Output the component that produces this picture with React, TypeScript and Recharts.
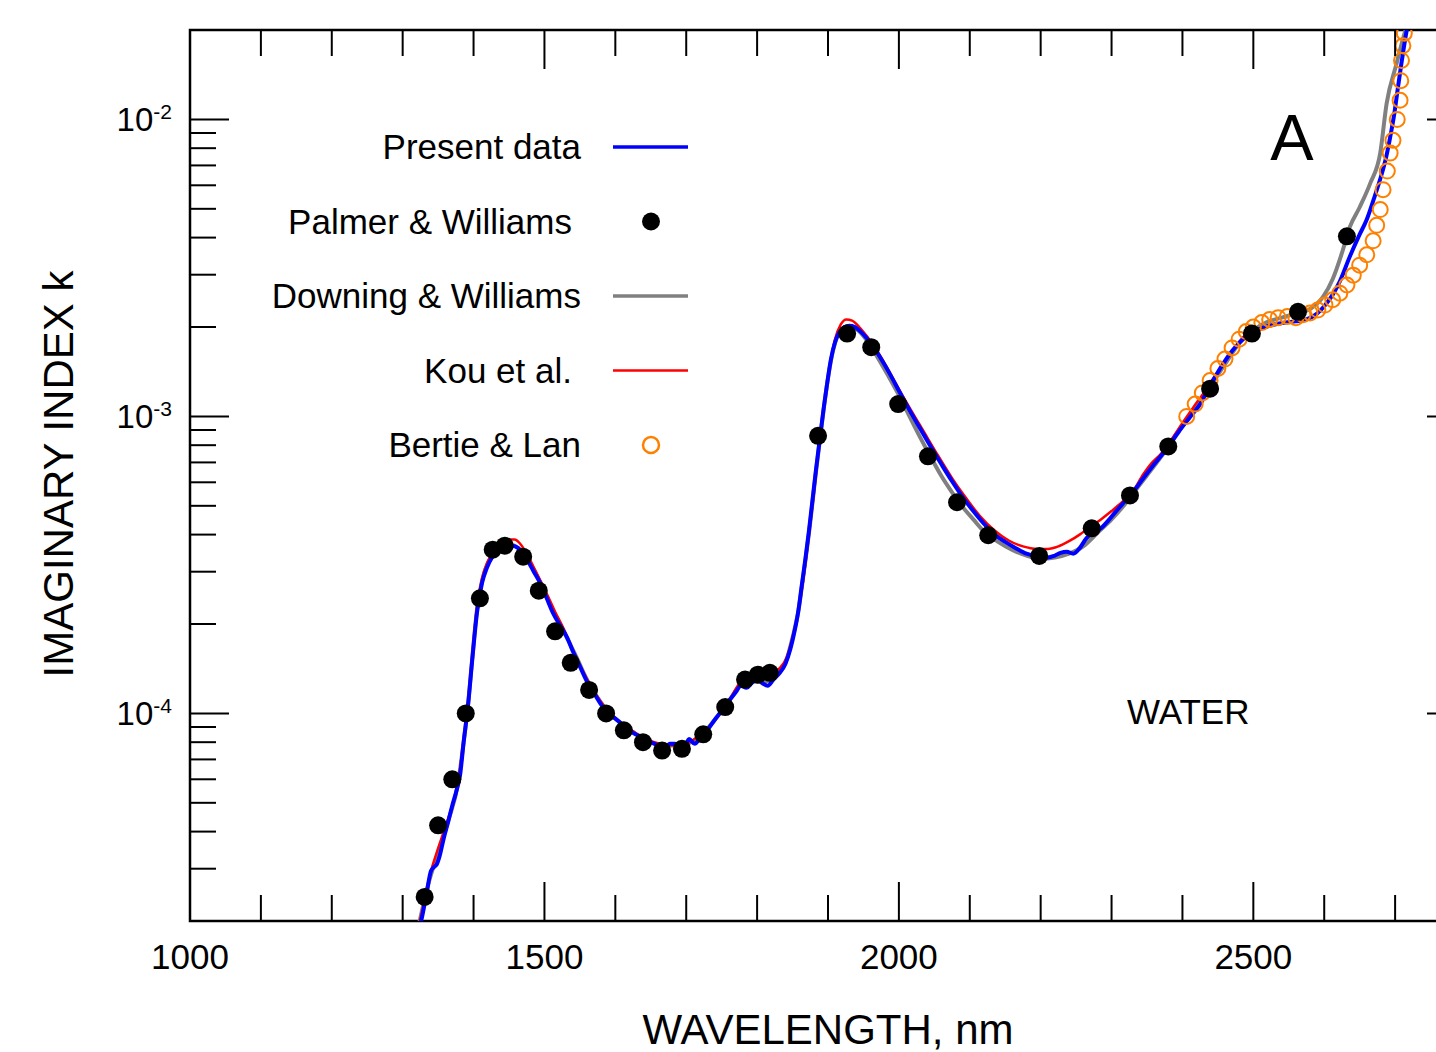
import React from 'react';
import { ComposedChart, Line, Scatter, XAxis, YAxis, ReferenceArea, Legend } from 'recharts';

const FONT = '"Liberation Sans", Arial, Helvetica, sans-serif';

// wavelength (nm) / imaginary index k
const presentWl = [1318, 1326, 1334, 1340, 1345, 1348, 1352, 1358, 1364, 1370, 1376, 1381, 1386, 1392, 1398, 1405, 1412, 1419, 1426, 1433, 1440, 1447, 1455, 1463, 1470, 1477, 1485, 1494, 1503, 1512, 1522, 1532, 1541, 1550, 1560, 1569, 1580, 1590, 1600, 1612, 1625, 1638, 1650, 1660, 1668, 1677, 1684, 1690, 1697, 1704, 1712, 1720, 1730, 1740, 1750, 1760, 1770, 1777, 1785, 1793, 1800, 1808, 1815, 1823, 1832, 1840, 1847, 1853, 1858, 1863, 1868, 1873, 1878, 1883, 1889, 1894, 1899, 1904, 1910, 1916, 1922, 1930, 1938, 1946, 1955, 1965, 1975, 1988, 2000, 2015, 2030, 2045, 2060, 2075, 2090, 2105, 2120, 2135, 2150, 2165, 2180, 2190, 2200, 2210, 2220, 2228, 2237, 2246, 2255, 2265, 2275, 2285, 2295, 2305, 2318, 2330, 2345, 2360, 2378, 2395, 2410, 2425, 2440, 2457, 2470, 2481, 2495, 2514, 2530, 2545, 2560, 2575, 2590, 2600, 2612, 2622, 2636, 2650, 2660, 2670, 2679, 2687, 2693, 2699, 2704, 2709, 2714, 2718];
const presentK = [1.8e-5, 2.0e-5, 2.5e-5, 2.95e-5, 3.05e-5, 3.1e-5, 3.3e-5, 3.8e-5, 4.3e-5, 4.9e-5, 5.5e-5, 6.2e-5, 8.0e-5, 1.05e-4, 1.5e-4, 2.2e-4, 2.75e-4, 3.1e-4, 3.35e-4, 3.5e-4, 3.6e-4, 3.65e-4, 3.67e-4, 3.6e-4, 3.45e-4, 3.25e-4, 3.0e-4, 2.75e-4, 2.45e-4, 2.18e-4, 1.98e-4, 1.8e-4, 1.6e-4, 1.44e-4, 1.28e-4, 1.18e-4, 1.07e-4, 1.0e-4, 9.6e-5, 9.1e-5, 8.6e-5, 8.3e-5, 8.0e-5, 7.8e-5, 7.5e-5, 7.9e-5, 7.9e-5, 7.5e-5, 7.6e-5, 8.2e-5, 7.9e-5, 8.3e-5, 8.8e-5, 9.5e-5, 1.02e-4, 1.1e-4, 1.18e-4, 1.24e-4, 1.22e-4, 1.27e-4, 1.3e-4, 1.26e-4, 1.24e-4, 1.3e-4, 1.37e-4, 1.47e-4, 1.65e-4, 1.9e-4, 2.2e-4, 2.7e-4, 3.3e-4, 4.1e-4, 5.2e-4, 6.6e-4, 8.6e-4, 1.07e-3, 1.3e-3, 1.55e-3, 1.78e-3, 1.92e-3, 1.99e-3, 2.02e-3, 2.0e-3, 1.93e-3, 1.83e-3, 1.7e-3, 1.56e-3, 1.38e-3, 1.22e-3, 1.05e-3, 9.1e-4, 7.9e-4, 6.9e-4, 6.05e-4, 5.35e-4, 4.8e-4, 4.35e-4, 4.0e-4, 3.78e-4, 3.6e-4, 3.45e-4, 3.4e-4, 3.38e-4, 3.35e-4, 3.4e-4, 3.47e-4, 3.5e-4, 3.45e-4, 3.6e-4, 3.9e-4, 4.05e-4, 4.2e-4, 4.45e-4, 4.75e-4, 5.15e-4, 5.55e-4, 6.2e-4, 6.9e-4, 7.8e-4, 8.9e-4, 9.9e-4, 1.1e-3, 1.28e-3, 1.5e-3, 1.66e-3, 1.78e-3, 1.9e-3, 1.99e-3, 2.04e-3, 2.07e-3, 2.09e-3, 2.12e-3, 2.22e-3, 2.35e-3, 2.57e-3, 2.85e-3, 3.45e-3, 4.1e-3, 4.6e-3, 5.4e-3, 6.3e-3, 7.4e-3, 8.7e-3, 1.05e-2, 1.28e-2, 1.55e-2, 1.85e-2, 2.1e-2];

const kouWl = [1320, 1330, 1340, 1348, 1358, 1369, 1378, 1385, 1392, 1398, 1405, 1412, 1420, 1430, 1440, 1450, 1458, 1466, 1475, 1485, 1495, 1505, 1515, 1527, 1540, 1552, 1565, 1580, 1595, 1610, 1625, 1640, 1655, 1670, 1685, 1700, 1715, 1730, 1745, 1760, 1775, 1790, 1805, 1820, 1832, 1842, 1850, 1858, 1865, 1872, 1880, 1888, 1895, 1902, 1910, 1918, 1926, 1934, 1944, 1955, 1968, 1982, 1998, 2015, 2035, 2055, 2075, 2095, 2115, 2135, 2155, 2175, 2195, 2210, 2225, 2240, 2255, 2270, 2285, 2300, 2315, 2330, 2345, 2355, 2370, 2385, 2400, 2415, 2430, 2445, 2460, 2475, 2490, 2500];
const kouK = [1.8e-5, 2.3e-5, 2.95e-5, 3.4e-5, 4.0e-5, 4.8e-5, 5.8e-5, 7.8e-5, 1.08e-4, 1.55e-4, 2.3e-4, 2.85e-4, 3.25e-4, 3.55e-4, 3.75e-4, 3.85e-4, 3.85e-4, 3.72e-4, 3.45e-4, 3.1e-4, 2.78e-4, 2.48e-4, 2.2e-4, 1.93e-4, 1.63e-4, 1.42e-4, 1.24e-4, 1.09e-4, 9.9e-5, 9.2e-5, 8.7e-5, 8.25e-5, 8.0e-5, 7.85e-5, 7.8e-5, 7.9e-5, 8.3e-5, 8.9e-5, 9.8e-5, 1.1e-4, 1.26e-4, 1.32e-4, 1.35e-4, 1.37e-4, 1.42e-4, 1.55e-4, 1.8e-4, 2.2e-4, 2.8e-4, 3.8e-4, 5.5e-4, 8.3e-4, 1.12e-3, 1.45e-3, 1.82e-3, 2.04e-3, 2.12e-3, 2.1e-3, 2.0e-3, 1.86e-3, 1.68e-3, 1.48e-3, 1.26e-3, 1.07e-3, 8.9e-4, 7.4e-4, 6.2e-4, 5.3e-4, 4.6e-4, 4.13e-4, 3.82e-4, 3.65e-4, 3.58e-4, 3.58e-4, 3.65e-4, 3.8e-4, 4.0e-4, 4.25e-4, 4.5e-4, 4.8e-4, 5.15e-4, 5.6e-4, 6.4e-4, 6.9e-4, 7.5e-4, 8.4e-4, 9.5e-4, 1.07e-3, 1.2e-3, 1.36e-3, 1.53e-3, 1.72e-3, 1.9e-3, 2.02e-3];

const downingWl = [1320, 1335, 1350, 1365, 1378, 1386, 1392, 1398, 1405, 1412, 1420, 1430, 1440, 1452, 1462, 1472, 1485, 1500, 1515, 1530, 1545, 1560, 1575, 1590, 1605, 1620, 1640, 1660, 1680, 1700, 1720, 1740, 1760, 1778, 1795, 1812, 1828, 1840, 1850, 1858, 1866, 1874, 1882, 1890, 1898, 1906, 1914, 1922, 1932, 1942, 1955, 1970, 1985, 2000, 2015, 2030, 2045, 2060, 2075, 2090, 2105, 2120, 2140, 2160, 2180, 2200, 2220, 2240, 2260, 2280, 2300, 2320, 2340, 2360, 2380, 2400, 2420, 2440, 2460, 2480, 2500, 2520, 2540, 2560, 2580, 2598, 2612, 2625, 2636, 2650, 2665, 2679, 2688, 2702, 2712, 2720];
const downingK = [1.8e-5, 2.6e-5, 3.4e-5, 4.4e-5, 5.8e-5, 8.0e-5, 1.06e-4, 1.52e-4, 2.25e-4, 2.8e-4, 3.2e-4, 3.5e-4, 3.65e-4, 3.7e-4, 3.62e-4, 3.4e-4, 3.05e-4, 2.55e-4, 2.15e-4, 1.83e-4, 1.55e-4, 1.3e-4, 1.13e-4, 1.01e-4, 9.4e-5, 8.8e-5, 8.25e-5, 7.85e-5, 7.8e-5, 7.9e-5, 8.4e-5, 9.5e-5, 1.1e-4, 1.25e-4, 1.28e-4, 1.28e-4, 1.35e-4, 1.48e-4, 1.8e-4, 2.2e-4, 3.0e-4, 4.2e-4, 6.2e-4, 8.9e-4, 1.25e-3, 1.62e-3, 1.88e-3, 1.98e-3, 2.0e-3, 1.95e-3, 1.8e-3, 1.58e-3, 1.37e-3, 1.18e-3, 1.0e-3, 8.5e-4, 7.3e-4, 6.3e-4, 5.55e-4, 4.95e-4, 4.5e-4, 4.1e-4, 3.78e-4, 3.55e-4, 3.4e-4, 3.32e-4, 3.35e-4, 3.45e-4, 3.65e-4, 4.05e-4, 4.5e-4, 5.1e-4, 5.9e-4, 6.8e-4, 7.9e-4, 9.3e-4, 1.08e-3, 1.27e-3, 1.5e-3, 1.76e-3, 1.95e-3, 2.08e-3, 2.15e-3, 2.22e-3, 2.3e-3, 2.52e-3, 2.9e-3, 3.55e-3, 4.34e-3, 5.06e-3, 6.1e-3, 7.7e-3, 1.13e-2, 1.54e-2, 1.9e-2, 2.2e-2];

const palmerWl = [1331, 1350, 1370, 1389, 1409, 1427, 1444, 1470, 1492, 1515, 1537, 1563, 1587, 1612, 1639, 1666, 1694, 1724, 1755, 1783, 1801, 1818, 1886, 1927, 1961, 1999, 2041, 2082, 2126, 2198, 2272, 2326, 2380, 2439, 2498, 2563, 2632];
const palmerK = [2.41e-5, 4.2e-5, 6.0e-5, 1.0e-4, 2.44e-4, 3.56e-4, 3.67e-4, 3.37e-4, 2.59e-4, 1.89e-4, 1.48e-4, 1.2e-4, 1.0e-4, 8.77e-5, 8.0e-5, 7.5e-5, 7.6e-5, 8.5e-5, 1.05e-4, 1.3e-4, 1.35e-4, 1.37e-4, 8.6e-4, 1.9e-3, 1.71e-3, 1.1e-3, 7.34e-4, 5.14e-4, 3.98e-4, 3.39e-4, 4.2e-4, 5.42e-4, 7.92e-4, 1.24e-3, 1.9e-3, 2.25e-3, 4.04e-3];

const bertieWl = [2406, 2418, 2428, 2439, 2450, 2460, 2470, 2480, 2490, 2500, 2512, 2523, 2535, 2548, 2560, 2570, 2580, 2591, 2601, 2612, 2622, 2632, 2641, 2650, 2660, 2669, 2674, 2679, 2683, 2689, 2693, 2697, 2703, 2707, 2708, 2709, 2711, 2713];
const bertieK = [1.0e-3, 1.1e-3, 1.2e-3, 1.32e-3, 1.45e-3, 1.56e-3, 1.7e-3, 1.82e-3, 1.93e-3, 2.0e-3, 2.07e-3, 2.12e-3, 2.15e-3, 2.17e-3, 2.15e-3, 2.2e-3, 2.23e-3, 2.28e-3, 2.37e-3, 2.47e-3, 2.6e-3, 2.77e-3, 2.99e-3, 3.23e-3, 3.5e-3, 3.9e-3, 4.4e-3, 4.97e-3, 5.8e-3, 6.7e-3, 7.7e-3, 8.5e-3, 1.0e-2, 1.16e-2, 1.35e-2, 1.58e-2, 1.77e-2, 1.95e-2];

const X_TICKS = [1000, 1100, 1200, 1300, 1400, 1500, 1600, 1700, 1800, 1900, 2000, 2100, 2200, 2300, 2400, 2500, 2600, 2700, 2800];
const X_LABELS = [1000, 1500, 2000, 2500];
const Y_TICKS = [2e-5, 3e-5, 4e-5, 5e-5, 6e-5, 7e-5, 8e-5, 9e-5, 1e-4, 2e-4, 3e-4, 4e-4, 5e-4, 6e-4, 7e-4, 8e-4, 9e-4, 1e-3, 2e-3, 3e-3, 4e-3, 5e-3, 6e-3, 7e-3, 8e-3, 9e-3, 1e-2, 2e-2];
const Y_LABELS = [1e-4, 1e-3, 1e-2];

const LEGEND_ITEMS = [
  { name: 'Present data', kind: 'line', color: '#0000ff', width: 3.5, textEnd: 581 },
  { name: 'Palmer & Williams', kind: 'dot', color: '#000000', width: 0, textEnd: 572 },
  { name: 'Downing & Williams', kind: 'line', color: '#808080', width: 3.5, textEnd: 581 },
  { name: 'Kou et al.', kind: 'line', color: '#ff0000', width: 2.5, textEnd: 572 },
  { name: 'Bertie & Lan', kind: 'ring', color: '#ff8000', width: 2.5, textEnd: 581 },
];

const zip = (wl: number[], k: number[]) => wl.map((x, i) => ({ x, k: k[i] }));
const present = zip(presentWl, presentK);
const kou = zip(kouWl, kouK);
const downing = zip(downingWl, downingK);
const palmer = zip(palmerWl, palmerK);
const bertie = zip(bertieWl, bertieK);

const PLOT_W = 1276;
const PLOT_H = 891;

const XTick = (props: any) => {
  const { x, y, payload } = props;
  const major = X_LABELS.includes(payload.value);
  const len = major ? 39 : 26;
  return (
    <g>
      <line x1={x} x2={x} y1={y} y2={y - len} stroke="#000" strokeWidth={2} />
      <line x1={x} x2={x} y1={y - PLOT_H} y2={y - PLOT_H + len} stroke="#000" strokeWidth={2} />
      {major && (
        <text x={x} y={y + 48} textAnchor="middle" fontSize={35} fontFamily={FONT} fill="#000">
          {payload.value}
        </text>
      )}
    </g>
  );
};

const YTick = (props: any) => {
  const { x, y, payload } = props;
  const major = Y_LABELS.some((v) => Math.abs(v - payload.value) < v * 1e-6);
  const exp = Math.round(Math.log10(payload.value));
  return (
    <g>
      <line x1={x} x2={x + (major ? 39 : 26)} y1={y} y2={y} stroke="#000" strokeWidth={2} />
      {major && <line x1={x + PLOT_W} x2={x + PLOT_W - 39} y1={y} y2={y} stroke="#000" strokeWidth={2} />}
      {major && (
        <text x={x - 18} y={y + 12} textAnchor="end" fontSize={33} fontFamily={FONT} fill="#000">
          10<tspan dy={-12} fontSize={21}>{exp}</tspan>
        </text>
      )}
    </g>
  );
};

const LegendBox = () => (
  <svg width={720} height={500} style={{ display: 'block' }}>
    {LEGEND_ITEMS.map((it, i) => {
      const cy = 147 + i * 74.5;
      return (
        <g key={it.name}>
          <text x={it.textEnd} y={cy + 12} textAnchor="end" fontSize={35} fontFamily={FONT} fill="#000">
            {it.name}
          </text>
          {it.kind === 'line' && <line x1={613} x2={688} y1={cy} y2={cy} stroke={it.color} strokeWidth={it.width} />}
          {it.kind === 'dot' && <circle cx={651} cy={cy} r={9} fill={it.color} />}
          {it.kind === 'ring' && <circle cx={651} cy={cy} r={8} fill="none" stroke={it.color} strokeWidth={it.width} />}
        </g>
      );
    })}
  </svg>
);

export default function App() {
  return (
    <div style={{ position: 'fixed', left: 0, top: 0, width: 1436, height: 1052, overflow: 'hidden', background: '#fff' }}>
      <ComposedChart width={1500} height={1052} margin={{ top: 30, right: 34, bottom: 31, left: 0 }}>
        <XAxis
          dataKey="x"
          type="number"
          domain={[1000, 2800]}
          ticks={X_TICKS}
          interval={0}
          allowDataOverflow
          height={100}
          axisLine={false}
          tickLine={false}
          tickSize={0}
          tickMargin={0}
          tick={<XTick />}
        />
        <YAxis
          dataKey="k"
          type="number"
          scale="log"
          domain={[2e-5, 2e-2]}
          ticks={Y_TICKS}
          interval={0}
          allowDataOverflow
          width={190}
          axisLine={false}
          tickLine={false}
          tickSize={0}
          tickMargin={0}
          tick={<YTick />}
        />
        <ReferenceArea x1={1000} x2={2800} y1={2e-5} y2={2e-2} fill="none" fillOpacity={0} stroke="#000" strokeWidth={2.5} ifOverflow="visible" />
        <Legend
          layout="vertical"
          align="center"
          verticalAlign="middle"
          content={() => <LegendBox />}
          wrapperStyle={{ left: 0, top: 0, width: 720, height: 500 }}
        />
        <Scatter
          name="Bertie & Lan"
          data={bertie}
          dataKey="k"
          fill="#ff8000"
          isAnimationActive={false}
          shape={(p: any) => <circle cx={p.cx} cy={p.cy} r={7.5} fill="none" stroke="#ff8000" strokeWidth={2} />}
        />
        <Line name="Downing & Williams" data={downing} dataKey="k" type="monotone" stroke="#808080" strokeWidth={4} dot={false} isAnimationActive={false} />
        <Scatter
          name="Palmer & Williams"
          data={palmer}
          dataKey="k"
          fill="#000"
          isAnimationActive={false}
          shape={(p: any) => <circle cx={p.cx} cy={p.cy} r={9} fill="#000" />}
        />
        <Line name="Kou et al." data={kou} dataKey="k" type="monotone" stroke="#ff0000" strokeWidth={2.5} dot={false} isAnimationActive={false} />
        <Line name="Present data" data={present} dataKey="k" type="monotone" stroke="#0000ff" strokeWidth={4} dot={false} isAnimationActive={false} />
      </ComposedChart>
      <svg width={1436} height={1052} style={{ position: 'absolute', left: 0, top: 0, pointerEvents: 'none' }}>
        <text transform="rotate(-90 58 474)" x={58} y={489} textAnchor="middle" fontSize={42} fontFamily={FONT} fill="#000">
          IMAGINARY INDEX k
        </text>
        <text x={828} y={1044} textAnchor="middle" fontSize={42} fontFamily={FONT} fill="#000">
          WAVELENGTH, nm
        </text>
        <text x={1292} y={160} textAnchor="middle" fontSize={65} fontFamily={FONT} fill="#000">
          A
        </text>
        <text x={1127} y={724} fontSize={35} fontFamily={FONT} fill="#000">
          WATER
        </text>
      </svg>
    </div>
  );
}
